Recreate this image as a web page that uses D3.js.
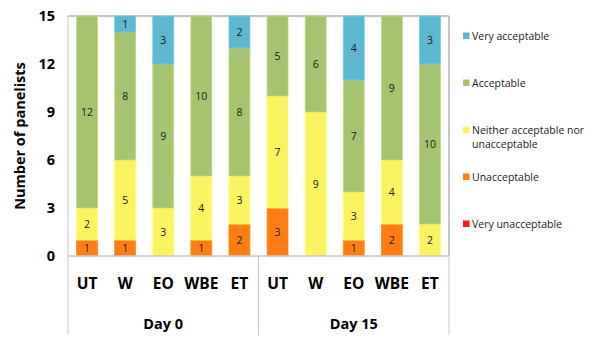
<!DOCTYPE html>
<html><head><meta charset="utf-8">
<script src="https://cdn.jsdelivr.net/npm/d3@7"></script>
<style>body{margin:0;background:#fff;}svg{display:block;font-family:"Open Sans","Liberation Sans",sans-serif;}</style>
</head><body>
<script>
const categories = ["UT","W","EO","WBE","ET","UT","W","EO","WBE","ET"];
const groups = ["Day 0","Day 0","Day 0","Day 0","Day 0","Day 15","Day 15","Day 15","Day 15","Day 15"];
const groupNames = ["Day 0","Day 15"];
const seriesNames = ["Very unacceptable","Unacceptable","Neither acceptable nor unacceptable","Acceptable","Very acceptable"];
const veryUnacceptable = [0,0,0,0,0,0,0,0,0,0];
const unacceptable = [1,1,0,1,2,3,0,1,2,0];
const neither = [2,5,3,4,3,7,9,3,4,2];
const acceptable = [12,8,9,10,8,5,6,7,9,10];
const veryAcceptable = [0,1,3,0,2,0,0,4,0,3];
const yTicks = [0,3,6,9,12,15];
const colors = ["#fe1a12","#ff7d12","#fbf35f","#a6c36f","#5db7d0"];

const W = 591, H = 347;
const m = {left:68, right:449, top:16, bottom:256};
const svg = d3.select("body").append("svg").attr("width",W).attr("height",H);

const idx = d3.range(categories.length);
const x = d3.scaleBand().domain(idx).range([m.left,m.right]).paddingInner(0.45).paddingOuter(0.225);
const y = d3.scaleLinear().domain([0,15]).range([m.bottom,m.top]);

const seriesVals = [veryUnacceptable,unacceptable,neither,acceptable,veryAcceptable];
const rows = idx.map(i => { const o = {i}; seriesNames.forEach((s,k)=>o[s]=seriesVals[k][i]); return o; });
const stack = d3.stack().keys(seriesNames)(rows);

// plot border top/right
svg.append("line").attr("x1",m.left).attr("x2",m.right).attr("y1",m.top).attr("y2",m.top).attr("stroke","#8c8c8c").attr("stroke-width",1);
svg.append("line").attr("x1",m.right).attr("x2",m.right).attr("y1",m.top).attr("y2",m.bottom).attr("stroke","#8c8c8c").attr("stroke-width",1);

stack.forEach((layer,k) => {
  const g = svg.append("g");
  layer.forEach((d,i) => {
    const v = d[1]-d[0];
    if (v <= 0) return;
    g.append("rect").attr("x",x(i)).attr("width",x.bandwidth())
      .attr("y",y(d[1])).attr("height",y(d[0])-y(d[1]))
      .attr("fill",colors[k]).attr("stroke",d3.color(colors[k]).brighter(0.35)).attr("stroke-width",0.8);
    g.append("text").attr("x",x(i)+x.bandwidth()/2).attr("y",(y(d[0])+y(d[1]))/2)
      .attr("text-anchor","middle").attr("dominant-baseline","central")
      .attr("font-size",10.5).attr("fill","#1a1a1a").text(v);
  });
});

// axes lines
svg.append("line").attr("x1",m.left).attr("x2",m.right).attr("y1",m.bottom).attr("y2",m.bottom).attr("stroke","#c8c8c8").attr("stroke-width",1.5);
svg.append("line").attr("x1",m.left).attr("x2",m.left).attr("y1",m.top).attr("y2",m.bottom).attr("stroke","#c8c8c8").attr("stroke-width",1);

// y ticks
const yAxis = d3.axisLeft(y).tickValues(yTicks).tickSize(0).tickPadding(13);
const ya = svg.append("g").attr("transform",`translate(${m.left},0)`).call(yAxis);
ya.select(".domain").remove();
ya.selectAll("text").attr("font-size",14.5).attr("font-weight","bold").attr("fill","#000").attr("font-family","'Open Sans',sans-serif");

svg.append("text").attr("transform",`translate(19,${(m.top+m.bottom)/2}) rotate(-90)`)
  .attr("text-anchor","middle").attr("dominant-baseline","central")
  .attr("font-size",14.5).attr("font-weight","bold").text("Number of panelists");

// category labels
svg.append("g").selectAll("text").data(idx).join("text")
  .attr("x",i=>x(i)+x.bandwidth()/2).attr("y",283).attr("text-anchor","middle").attr("dominant-baseline","central")
  .attr("font-size",15.5).attr("font-weight","bold").text(i=>categories[i]);

// group separators and labels
const bounds = [m.left];
groupNames.forEach((g,k)=>{
  const ii = idx.filter(i=>groups[i]===g);
  const last = ii[ii.length-1];
  bounds.push(last===idx.length-1 ? m.right : (x(last)+x.bandwidth()+x(last+1))/2);
});
bounds.forEach(b => svg.append("line").attr("x1",b).attr("x2",b).attr("y1",m.bottom).attr("y2",335).attr("stroke","#c8c8c8").attr("stroke-width",1));
groupNames.forEach((g,k)=>{
  svg.append("text").attr("x",(bounds[k]+bounds[k+1])/2).attr("y",323).attr("text-anchor","middle").attr("dominant-baseline","central")
    .attr("font-size",14.5).attr("font-weight","bold").text(g);
});

// legend
const legendOrder = [4,3,2,1,0];
const legendY = [36,83,130,177,224];
const lg = svg.append("g");
legendOrder.forEach((k,j)=>{
  lg.append("rect").attr("x",463).attr("y",legendY[j]-3.5).attr("width",6.5).attr("height",6.5).attr("fill",colors[k]);
  const t = lg.append("text").attr("x",472).attr("y",legendY[j]).attr("dominant-baseline","central").attr("font-size",10.5).attr("fill","#222");
  if (k===2) {
    t.append("tspan").attr("x",472).text("Neither acceptable nor");
    t.append("tspan").attr("x",472).attr("dy",14).text("unacceptable");
  } else t.text(seriesNames[k]);
});
</script>
</body></html>
